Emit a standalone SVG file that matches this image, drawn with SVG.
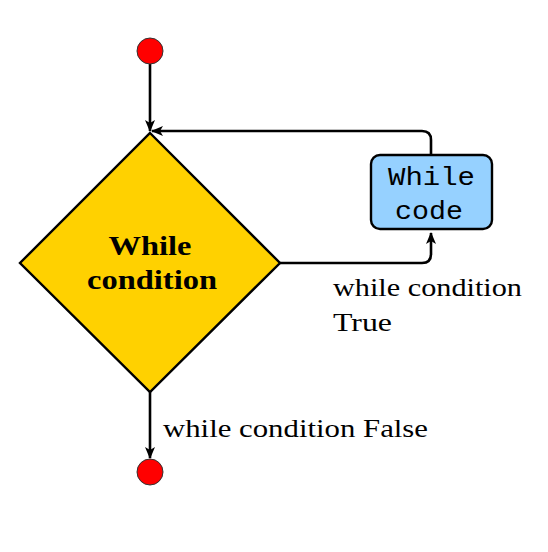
<svg xmlns="http://www.w3.org/2000/svg" width="548" height="552" viewBox="0 0 548 552">
<style>
.ln{fill:none;stroke:#000;stroke-width:2.6;}
.serif{font-family:"Liberation Serif","DejaVu Serif",serif;font-size:26px;fill:#000;}
.bold{font-family:"Liberation Serif","DejaVu Serif",serif;font-size:27px;font-weight:bold;fill:#000;}
.mono{font-family:"Liberation Mono","DejaVu Sans Mono",monospace;font-size:25px;fill:#000;}
.dot{fill:#ff0000;stroke:#333;stroke-width:1;}
</style>
<defs>
<marker id="ah" viewBox="0 0 12 10" refX="11" refY="5" markerWidth="12" markerHeight="10" markerUnits="userSpaceOnUse" orient="auto">
<path d="M0,0 L12,5 L0,10 L3,5 Z" fill="#000"/>
</marker>
</defs>
<rect width="548" height="552" fill="#fff"/>
<g id="connectors">
<path class="ln" d="M150,64 V131" marker-end="url(#ah)"/>
<path class="ln" d="M431,155 V140 Q431,131 422,131 H152" marker-end="url(#ah)"/>
<path class="ln" d="M280,263 H422 Q431,263 431,254 V233" marker-end="url(#ah)"/>
<path class="ln" d="M150,392 V458" marker-end="url(#ah)"/>
</g>
<g id="start"><circle class="dot" cx="150" cy="51" r="13"/></g>
<g id="condition">
<polygon points="150,133 280,263 150,392 20,263" fill="#ffd100" stroke="#000" stroke-width="2.4"/>
<text class="bold" x="150" y="255" text-anchor="middle" textLength="83" lengthAdjust="spacingAndGlyphs">While</text>
<text class="bold" x="152" y="289" text-anchor="middle" textLength="130" lengthAdjust="spacingAndGlyphs">condition</text>
</g>
<g id="code">
<rect x="371" y="155" width="121" height="74" rx="9" fill="#96d1ff" stroke="#000" stroke-width="2.4"/>
<text class="mono" x="388" y="185" textLength="87" lengthAdjust="spacingAndGlyphs">While</text>
<text class="mono" x="395" y="219" textLength="68" lengthAdjust="spacingAndGlyphs">code</text>
</g>
<g id="end"><circle class="dot" cx="150" cy="472" r="13"/></g>
<g id="labels">
<text class="serif" x="333" y="296" textLength="189" lengthAdjust="spacingAndGlyphs">while condition</text>
<text class="serif" x="333" y="331" textLength="59" lengthAdjust="spacingAndGlyphs">True</text>
<text class="serif" x="163" y="437" textLength="265" lengthAdjust="spacingAndGlyphs">while condition False</text>
</g>
</svg>
